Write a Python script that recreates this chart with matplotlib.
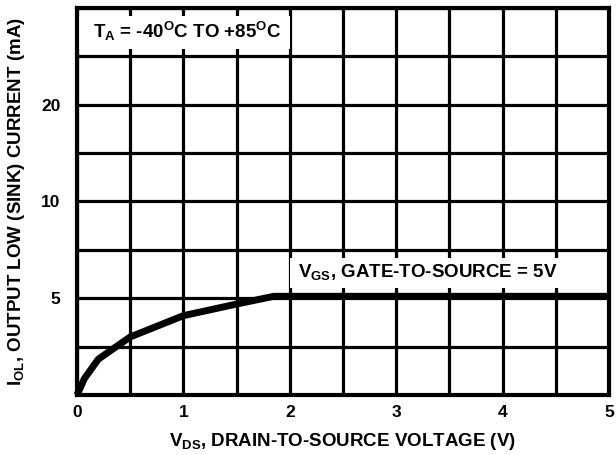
import matplotlib
matplotlib.use("Agg")
import matplotlib.pyplot as plt
import numpy as np

plt.rcParams['font.family'] = ['Liberation Sans', 'DejaVu Sans']
plt.rcParams['font.weight'] = 'bold'
plt.rcParams['mathtext.fontset'] = 'custom'
plt.rcParams['mathtext.rm'] = 'Liberation Sans:bold'
plt.rcParams['mathtext.it'] = 'Liberation Sans:bold'
plt.rcParams['mathtext.bf'] = 'Liberation Sans:bold'

# Data
vds = [0.0, 0.07, 0.2, 0.5, 1.0, 1.5, 1.85, 5.0]
iol = [0.0, 0.85, 1.85, 3.0, 4.1, 4.7, 5.1, 5.1]
x_ticks = [0, 1, 2, 3, 4, 5]
y_major = [5, 10, 20]
y_minor = [0, 2.5, 7.5, 15, 25, 30]

def fwd(y):
    y = np.asarray(y, dtype=float)
    return np.where(y <= 10, y / 2.5, 4 + (y - 10) / 5.0)

def inv(u):
    u = np.asarray(u, dtype=float)
    return np.where(u <= 4, u * 2.5, 10 + (u - 4) * 5.0)

fig = plt.figure(figsize=(6.16, 4.55), dpi=100)
ax = fig.add_axes([0.125, 0.1319, 0.8636, 0.8505])
ax.set_yscale('function', functions=(fwd, inv))
ax.set_xlim(0, 5)
ax.set_ylim(0, 30)

ax.set_xticks(x_ticks)
ax.set_xticks(np.arange(0, 5.01, 0.5), minor=True)
ax.set_yticks(y_major)
ax.set_yticks(y_minor, minor=True)
ax.set_yticklabels([str(v) for v in y_major])
ax.yaxis.set_minor_formatter(plt.NullFormatter())
ax.grid(True, which='both', color='black', linewidth=2.3, zorder=1)
ax.set_axisbelow(True)
ax.tick_params(which='both', length=0, labelsize=12.5)
ax.tick_params(axis='y', pad=12)
ax.tick_params(axis='x', pad=7)
for s in ax.spines.values():
    s.set_linewidth(3)
    s.set_zorder(5)

# white label boxes covering the grid
ax.fill_between([0, 2.0], 25.8, 29.2, color='white', linewidth=0, zorder=2)
ax.fill_between([2.0, 5.0], 5.52, 7.1, color='white', linewidth=0, zorder=2)

ax.plot(vds, iol, color='black', linewidth=5, solid_capstyle='butt', zorder=4, clip_on=False)

ax.text(0.15, 27.6, r'T$_\mathrm{A}$ = -40$^\mathrm{O}$C TO +85$^\mathrm{O}$C', fontsize=13.5,
        fontweight='bold', va='center', ha='left', zorder=6)
ax.text(2.08, 6.35, r'V$_\mathrm{GS}$, GATE-TO-SOURCE = 5V', fontsize=13.5,
        fontweight='bold', va='center', ha='left', zorder=6)

ax.set_xlabel(r'V$_\mathrm{DS}$, DRAIN-TO-SOURCE VOLTAGE (V)', fontsize=13.5, fontweight='bold', labelpad=8)
ax.set_ylabel(r'I$_\mathrm{OL}$, OUTPUT LOW (SINK) CURRENT (mA)', fontsize=13.5, fontweight='bold', labelpad=10)

fig.savefig('out.png', dpi=100)
